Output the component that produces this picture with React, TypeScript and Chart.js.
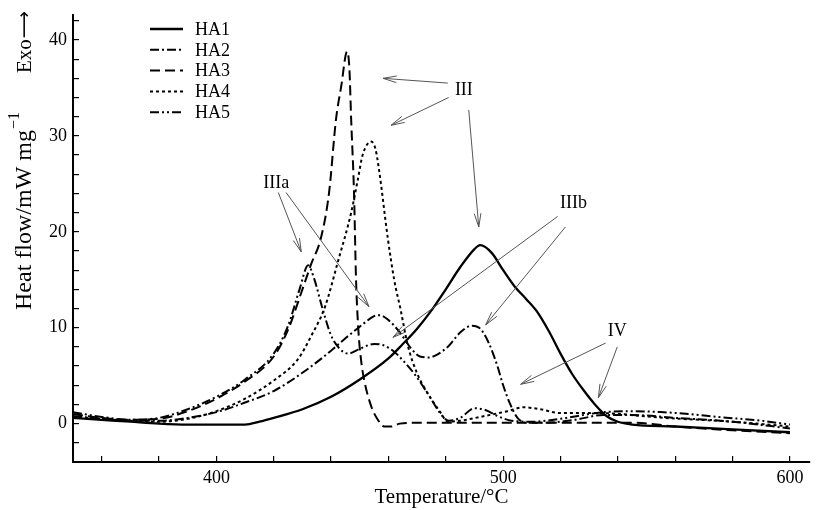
import React, { useEffect, useRef } from 'react';
import { Chart, registerables } from 'chart.js';

Chart.register(...registerables);

const FONT = "'Liberation Serif', 'Times New Roman', serif";

// ---- data (temperature °C / heat flow mW mg-1) ----
const HA1_T = [350, 360, 370, 380, 390, 400, 410, 415, 420, 430, 440, 450, 460, 465, 470, 475, 480, 485, 490, 492, 496, 500, 504, 508, 512, 516, 520, 524, 528, 532, 536, 540, 545, 560, 580, 600];
const HA1_Q = [0.6, 0.4, 0.2, 0.0, -0.1, -0.1, -0.1, 0.2, 0.6, 1.5, 2.8, 4.6, 6.8, 8.3, 9.9, 11.8, 14.0, 16.3, 18.2, 18.6, 17.8, 16.0, 14.3, 13.0, 11.6, 9.6, 7.3, 5.2, 3.5, 2.0, 0.8, 0.2, -0.1, -0.3, -0.6, -0.9];

const HA2_T = [350, 360, 370, 380, 390, 400, 410, 420, 430, 440, 445, 450, 455, 457, 460, 464, 468, 471, 474, 477, 481, 485, 489, 492, 495, 498, 500, 502.5, 505, 508, 515, 525, 535, 545, 560, 580, 600];
const HA2_Q = [0.8, 0.5, 0.3, 0.3, 0.6, 1.2, 2.2, 3.4, 5.3, 7.6, 8.9, 10.1, 11.2, 11.3, 10.8, 9.5, 7.8, 7.0, 6.9, 7.2, 8.1, 9.5, 10.2, 9.9, 8.4, 6.0, 4.0, 2.0, 0.6, 0.1, 0.1, 0.4, 0.9, 0.9, 0.6, 0.2, -0.5];

const HA3_T = [350, 360, 370, 380, 390, 400, 410, 420, 425, 430, 433, 436.5, 439.3, 441.7, 443.5, 445.6, 446.4, 447, 448, 448.7, 449.5, 450.5, 451.5, 454, 456.3, 458.5, 461, 464, 470, 500, 545, 560, 580, 600];
const HA3_Q = [1.0, 0.6, 0.4, 0.5, 1.3, 2.6, 4.4, 7.0, 9.8, 14.0, 16.6, 19.4, 24.1, 31.7, 35.1, 38.8, 36.9, 31.7, 24.0, 15.0, 9.8, 6.5, 4.6, 1.8, 0.4, -0.3, -0.3, 0.0, 0.1, 0.1, 0.1, -0.3, -0.7, -1.0];

const HA4_T = [350, 360, 370, 380, 390, 400, 410, 420, 428.4, 433, 437.9, 442.3, 447, 449.3, 451, 454, 455.5, 456.7, 459.7, 462, 464.3, 466.7, 469.9, 473.6, 478.3, 480.6, 485, 492, 501.5, 507, 513, 520, 533, 556, 580, 600];
const HA4_Q = [0.7, 0.5, 0.3, 0.2, 0.5, 1.3, 2.6, 4.5, 6.7, 9.1, 12.2, 16.8, 22.0, 25.4, 28.0, 29.4, 28.6, 26.5, 19.5, 15.0, 11.8, 8.2, 5.3, 3.2, 1.1, 0.2, 0.3, 0.7, 1.3, 1.7, 1.5, 1.1, 1.1, 0.6, 0.2, -0.3];

const HA5_T = [350, 360, 370, 380, 390, 400, 410, 420, 425, 429, 432, 434, 437, 440, 443, 446, 450, 455, 458, 462, 465, 469, 474, 478, 481, 485, 490, 494, 498, 503, 510, 520, 530, 535, 545, 555, 565, 575, 590, 600];
const HA5_Q = [1.2, 0.7, 0.4, 0.6, 1.5, 2.8, 4.6, 7.3, 10.2, 14.0, 16.5, 15.2, 12.0, 9.2, 7.8, 7.3, 7.8, 8.3, 8.2, 7.5, 6.6, 5.2, 3.0, 1.1, 0.3, 0.6, 1.6, 1.4, 0.8, 0.3, 0.2, 0.5, 1.0, 1.2, 1.3, 1.2, 1.0, 0.7, 0.3, -0.1];

const SERIES_NAMES = ['HA1', 'HA2', 'HA3', 'HA4', 'HA5'];

const X_TICKS = [360, 380, 400, 420, 440, 460, 480, 500, 520, 540, 560, 580, 600];
const Y_TICKS = [-2, 0, 2, 4, 6, 8, 10, 12, 14, 16, 18, 20, 22, 24, 26, 28, 30, 32, 34, 36, 38, 40, 42];

// annotation labels with arrows (data coordinates: label x, label y, [from x, from y, tip x, tip y])
const NOTE_TEXT = ['III', 'IIIa', 'IIIb', 'IV'];
const NOTE_POS: [number, number][] = [[486.3, 34.8], [420.9, 25.1], [524.5, 23.0], [539.8, 9.6]];
const NOTE_ARROWS: [number, number, number, number][][] = [
  [[480.7, 35.5, 458.1, 36.0], [481.0, 34.0, 460.9, 31.1], [488.0, 32.7, 491.5, 20.5]],
  [[421.6, 24.1, 429.6, 17.9], [424.3, 24.1, 453.2, 12.2]],
  [[519.0, 21.6, 461.6, 9.0], [521.7, 20.5, 493.9, 10.3]],
  [[535.7, 8.4, 506.1, 4.1], [539.8, 8.0, 533.2, 2.7]],
];

const toPoints = (t: number[], q: number[]) => t.map((x, i) => ({ x, y: q[i] }));

function drawArrow(ctx: CanvasRenderingContext2D, x1: number, y1: number, x2: number, y2: number) {
  const ang = Math.atan2(y2 - y1, x2 - x1);
  const len = 14;
  const spread = 0.24;
  ctx.beginPath();
  ctx.moveTo(x1, y1);
  ctx.lineTo(x2, y2);
  ctx.moveTo(x2 - len * Math.cos(ang - spread), y2 - len * Math.sin(ang - spread));
  ctx.lineTo(x2, y2);
  ctx.lineTo(x2 - len * Math.cos(ang + spread), y2 - len * Math.sin(ang + spread));
  ctx.stroke();
}

const overlayPlugin = {
  id: 'overlay',
  afterDraw(chart: any) {
    const ctx: CanvasRenderingContext2D = chart.ctx;
    const xs = chart.scales.x;
    const ys = chart.scales.y;
    ctx.save();
    // annotations
    ctx.strokeStyle = '#555';
    ctx.lineWidth = 1;
    ctx.fillStyle = '#000';
    ctx.font = `18px ${FONT}`;
    ctx.textAlign = 'center';
    ctx.textBaseline = 'middle';
    NOTE_TEXT.forEach((txt, i) => {
      ctx.fillText(txt, xs.getPixelForValue(NOTE_POS[i][0]), ys.getPixelForValue(NOTE_POS[i][1]));
      NOTE_ARROWS[i].forEach(([a, b, c, d]) => {
        drawArrow(ctx, xs.getPixelForValue(a), ys.getPixelForValue(b), xs.getPixelForValue(c), ys.getPixelForValue(d));
      });
    });
    // legend
    chart.data.datasets.forEach((ds: any, i: number) => {
      const y = 29 + i * 20.8;
      ctx.beginPath();
      ctx.setLineDash(ds.borderDash || []);
      ctx.lineWidth = ds.borderWidth;
      ctx.strokeStyle = '#000';
      ctx.moveTo(150, y);
      ctx.lineTo(183, y);
      ctx.stroke();
      ctx.setLineDash([]);
      ctx.textAlign = 'left';
      ctx.font = `18px ${FONT}`;
      ctx.fillText(ds.label, 195, y + 1);
    });
    // y title with superscript
    ctx.save();
    ctx.translate(25, 310);
    ctx.rotate(-Math.PI / 2);
    ctx.textAlign = 'left';
    ctx.textBaseline = 'middle';
    ctx.font = `24px ${FONT}`;
    const main = 'Heat flow/mW mg';
    ctx.fillText(main, 0, 0);
    const w = ctx.measureText(main).width;
    ctx.font = `16px ${FONT}`;
    ctx.fillText('\u22121', w + 1, -10);
    ctx.restore();
    // Exo arrow
    ctx.save();
    ctx.translate(25, 73);
    ctx.rotate(-Math.PI / 2);
    ctx.textAlign = 'left';
    ctx.textBaseline = 'middle';
    ctx.font = `21px ${FONT}`;
    ctx.fillText('Exo', 0, 0);
    const we = ctx.measureText('Exo').width;
    ctx.font = `19px 'DejaVu Sans', sans-serif`;
    ctx.fillText('\u27F6', we + 1, 0);
    ctx.restore();
    ctx.restore();
  },
};

export default function App() {
  const ref = useRef<HTMLCanvasElement>(null);
  useEffect(() => {
    document.body.style.margin = '0';
    const canvas = ref.current!;
    const styles = [
      { dash: [], width: 2.3 },
      { dash: [9, 3, 2, 3], width: 2 },
      { dash: [10, 5], width: 2 },
      { dash: [3, 3], width: 2 },
      { dash: [9, 3, 2, 3, 2, 3], width: 2 },
    ];
    const series = [
      toPoints(HA1_T, HA1_Q),
      toPoints(HA2_T, HA2_Q),
      toPoints(HA3_T, HA3_Q),
      toPoints(HA4_T, HA4_Q),
      toPoints(HA5_T, HA5_Q),
    ];
    const chart = new Chart(canvas, {
      type: 'line',
      data: {
        datasets: series.map((pts, i) => ({
          label: SERIES_NAMES[i],
          data: pts,
          borderColor: '#000',
          borderWidth: styles[i].width,
          borderDash: styles[i].dash,
          pointRadius: 0,
          fill: false,
          cubicInterpolationMode: 'monotone' as const,
        })),
      },
      options: {
        responsive: false,
        animation: false,
        devicePixelRatio: 1,
        layout: { padding: { left: 0, top: 15, right: 9, bottom: 0 } },
        plugins: { legend: { display: false }, tooltip: { enabled: false } },
        scales: {
          x: {
            type: 'linear',
            position: 'bottom',
            min: 350,
            max: 607,
            afterBuildTicks: (s: any) => {
              s.ticks = X_TICKS.map((v) => ({ value: v }));
            },
            afterFit: (s: any) => {
              s.height = 48;
            },
            grid: { drawOnChartArea: false, drawTicks: true, tickLength: -6, color: '#000', lineWidth: 1.2 },
            border: { display: true, color: '#000', width: 2 },
            ticks: {
              color: '#000',
              font: { family: FONT, size: 18 },
              padding: 11,
              maxRotation: 0,
              autoSkip: false,
              callback: (v: any) => (v % 100 === 0 ? String(v) : ''),
            },
            title: { display: true, text: 'Temperature/\u00B0C', color: '#000', font: { family: FONT, size: 21 }, padding: 0 },
          },
          y: {
            type: 'linear',
            min: -4,
            max: 42.6,
            afterBuildTicks: (s: any) => {
              s.ticks = Y_TICKS.map((v) => ({ value: v }));
            },
            afterFit: (s: any) => {
              s.width = 73;
            },
            grid: { drawOnChartArea: false, drawTicks: true, tickLength: -6, color: '#000', lineWidth: 1.2 },
            border: { display: true, color: '#000', width: 2 },
            ticks: {
              color: '#000',
              font: { family: FONT, size: 18, lineHeight: 0.1 },
              padding: 12,
              autoSkip: false,
              callback: (v: any) => (v % 10 === 0 ? String(v) : ''),
            },
          },
        },
      },
      plugins: [overlayPlugin],
    } as any);
    return () => chart.destroy();
  }, []);
  return (
    <div style={{ width: 819, height: 510 }}>
      <canvas ref={ref} width={819} height={510} style={{ display: 'block', width: 819, height: 510 }} />
    </div>
  );
}
